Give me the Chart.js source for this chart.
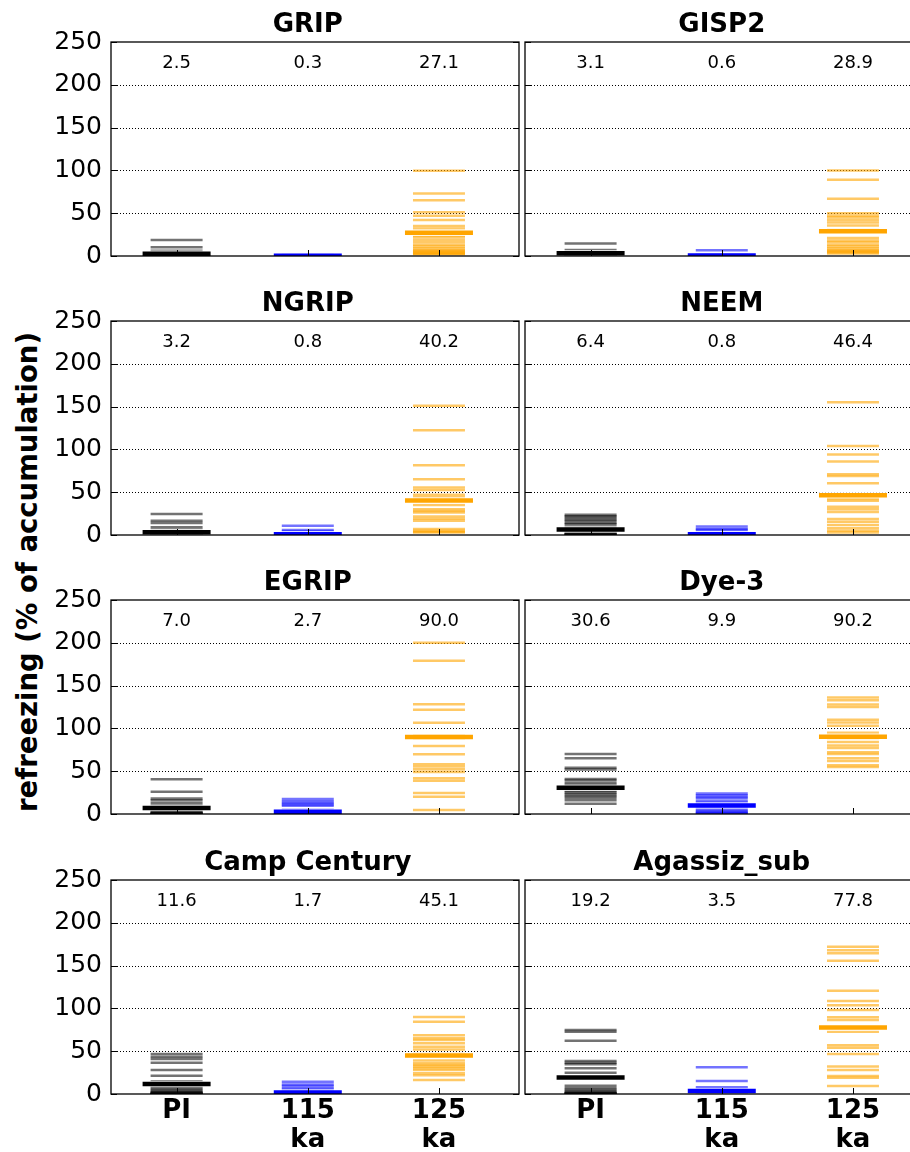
<!DOCTYPE html>
<html>
<head>
<meta charset="utf-8">
<script src="https://cdn.jsdelivr.net/npm/chart.js@4.4.1/dist/chart.umd.min.js"></script>
<style>
  html, body { margin: 0; padding: 0; background: #fff; overflow: hidden; }
  #figura { position: relative; width: 910px; height: 1152px; overflow: hidden; }
  #figura canvas { position: absolute; }
  #ylabel {
    position: absolute; left: 27px; top: 572px;
    transform: translate(-50%, -50%) rotate(-90deg);
    font: bold 27.5px "DejaVu Sans"; white-space: nowrap; color: #000;
  }
</style>
</head>
<body>
<div id="figura">
  <div id="ylabel">refreezing (% of accumulation)</div>
</div>
<script>
const periods = ["PI", "115 ka", "125 ka"];
const xTickLabels = [["PI"], ["115", "ka"], ["125", "ka"]];
const yTicks = [0, 50, 100, 150, 200, 250];
const sites = ["GRIP", "GISP2", "NGRIP", "NEEM", "EGRIP", "Dye-3", "Camp Century", "Agassiz_sub"];

// mean values printed above each group
const gripMeans = [2.5, 0.3, 27.1];
const gisp2Means = [3.1, 0.6, 28.9];
const ngripMeans = [3.2, 0.8, 40.2];
const neemMeans = [6.4, 0.8, 46.4];
const egripMeans = [7.0, 2.7, 90.0];
const dye3Means = [30.6, 9.9, 90.2];
const campMeans = [11.6, 1.7, 45.1];
const agassizMeans = [19.2, 3.5, 77.8];

// ensemble members: [PI, 115 ka, 125 ka]
const gripMembers = [
  [18.7, 10.2, 6, 3.5, 2, 1.5, 1, 0.8, 0.5, 0.4, 0.3, 0.2, 0.1, 0, 0, 0, 0, 0],
  [1.5, 1, 0.6, 0.4, 0.3, 0.2, 0.1, 0, 0, 0, 0, 0],
  [99.5, 73, 65, 51, 47, 42, 35, 32, 24, 22, 19, 16, 13, 11, 9, 7, 6, 5, 4, 3, 3, 2]
];
const gisp2Members = [
  [14.5, 7, 5, 4, 3, 2.5, 2, 1.5, 1, 0.8, 0.5, 0.3, 0.2, 0, 0, 0, 0],
  [6.6, 2, 1, 0.5, 0.3, 0.2, 0.1, 0, 0, 0],
  [100, 89, 67, 50, 47, 45, 42, 39, 35.5, 31, 21, 18, 16, 13, 11, 9, 7, 6, 5, 4, 3]
];
const ngripMembers = [
  [24.4, 16.7, 14, 9, 6.2, 4, 3, 2, 1, 1, 0.5, 0.3, 0, 0, 0, 0, 0, 0, 0, 0],
  [10.8, 5.8, 4, 2, 1, 0.5, 0.3, 0, 0, 0],
  [151, 122.5, 81.4, 65, 55.4, 52.7, 46.9, 44, 35, 30.2, 28, 26.4, 21.7, 19, 16.7, 7, 5, 3.9, 3]
];
const neemMembers = [
  [23.6, 22, 20.5, 18, 16.7, 14, 12.8, 10, 8, 6, 4, 3, 2, 1, 0.5, 0, 0, 0],
  [10, 7, 6, 3, 1.5, 1, 0.5, 0.2, 0, 0],
  [155, 104, 94, 86, 71, 69, 60.5, 44, 42, 40, 33, 30, 27, 18.6, 15.5, 11.6, 7.8, 5, 3]
];
const egripMembers = [
  [40.7, 26, 18, 16, 12.8, 10, 8, 6, 4, 3, 2, 1, 0.5, 0, 0, 0, 0, 0],
  [17.4, 15, 12.8, 11, 9.7, 5, 3, 1, 0.5, 0, 0],
  [200, 179, 128.3, 121.7, 106.6, 92, 88, 79.4, 69.8, 58, 55.4, 52.3, 49.2, 41.9, 38.8, 24.4, 20.2, 4.7]
];
const dye3Members = [
  [70, 65, 54, 52, 41, 39, 36, 34, 30, 27, 25, 23, 21, 19, 16, 12],
  [24, 22, 20, 18, 15, 13, 11, 9, 7, 5, 3, 2, 1, 0],
  [136, 133, 128, 125, 110, 107, 103, 95, 92, 88, 84, 80, 77, 72, 70, 65, 62, 57, 55]
];
const campMembers = [
  [46.7, 43.6, 40.9, 36.6, 28, 21.4, 15, 12, 10, 8, 6, 4, 3, 2, 1, 0.5, 0, 0, 0, 0, 0, 0],
  [14.4, 11, 9.3, 6.6, 5, 3, 1, 0.5, 0, 0],
  [90, 84.5, 68.6, 65, 63, 59.2, 55.3, 52, 47, 39, 36, 34, 32, 30, 28, 24.2, 22, 16.4]
];
const agassizMembers = [
  [74.8, 72.8, 62.3, 38.6, 36.5, 34.7, 30, 24.9, 9.7, 6.6, 5, 3, 2, 1, 0.5, 0, 0, 0, 0],
  [31.2, 15.2, 7.8, 6, 4, 3, 2, 1, 0.5, 0, 0],
  [172, 168, 164.4, 155.8, 120.7, 108.6, 103.6, 98, 89.6, 86.4, 72.8, 57, 54, 46.7, 32, 28, 21, 19, 9.3]
];

const allMembers = [gripMembers, gisp2Members, ngripMembers, neemMembers, egripMembers, dye3Members, campMembers, agassizMembers];
const allMeans = [gripMeans, gisp2Means, ngripMeans, neemMeans, egripMeans, dye3Means, campMeans, agassizMeans];

const memberColors = ["rgba(0,0,0,0.55)", "rgba(0,0,255,0.55)", "rgba(255,165,0,0.6)"];
const meanColors = ["#000000", "#0000ff", "#ffa500"];
const fontFamily = '"DejaVu Sans", sans-serif';
const areaTops = [42, 321, 600, 880];
const areaHeight = 214;

const panelPlugin = {
  id: "panel",
  beforeDatasetsDraw(chart) {
    const { ctx, chartArea: a, scales: { y } } = chart;
    ctx.save();
    ctx.strokeStyle = "#000";
    ctx.lineWidth = 1;
    ctx.setLineDash([1, 2]);
    yTicks.slice(1, -1).forEach((v) => {
      const py = Math.round(y.getPixelForValue(v)) + 0.5;
      ctx.beginPath();
      ctx.moveTo(a.left, py);
      ctx.lineTo(a.right, py);
      ctx.stroke();
    });
    ctx.restore();
  },
  afterDatasetsDraw(chart, args, opts) {
    const { ctx, chartArea: a, scales: { x, y } } = chart;
    ctx.save();
    // ticks pointing inward
    ctx.strokeStyle = "#000";
    ctx.lineWidth = 1;
    yTicks.forEach((v) => {
      const py = Math.round(y.getPixelForValue(v)) + 0.5;
      ctx.beginPath();
      ctx.moveTo(a.left, py);
      ctx.lineTo(a.left + 6, py);
      ctx.moveTo(a.right - 6, py);
      ctx.lineTo(a.right, py);
      ctx.stroke();
    });
    periods.forEach((p, i) => {
      const px = Math.round(x.getPixelForValue(i)) + 0.5;
      ctx.beginPath();
      ctx.moveTo(px, a.bottom);
      ctx.lineTo(px, a.bottom - 6);
      ctx.stroke();
    });
    // frame
    ctx.lineWidth = 1.3;
    ctx.strokeRect(a.left, a.top, a.right - a.left, a.bottom - a.top);

    // mean numbers
    ctx.fillStyle = "#000";
    ctx.textAlign = "center";
    ctx.textBaseline = "middle";
    ctx.font = "18px " + fontFamily;
    opts.means.forEach((m, i) => {
      ctx.fillText(m.toFixed(1), x.getPixelForValue(i), y.getPixelForValue(225));
    });

    // panel title
    ctx.textBaseline = "alphabetic";
    ctx.font = "bold 26px " + fontFamily;
    ctx.fillText(opts.title, x.getPixelForValue(1), a.top - 10);
    ctx.restore();
  }
};

function crearDatasets(members, means) {
  const datasets = [];
  members.forEach((valores, i) => {
    datasets.push({
      data: valores.map((v) => ({ x: i, y: v })),
      order: 3,
      clip: 0,
      pointStyle: "line",
      pointRadius: 26,
      pointBorderWidth: 2.5,
      pointBorderColor: memberColors[i]
    });
  });
  means.forEach((m, i) => {
    datasets.push({
      data: [{ x: i, y: m }],
      order: 2,
      clip: 0,
      pointStyle: "line",
      pointRadius: 35,
      pointBorderWidth: 6.5,
      pointBorderColor: "rgba(255,255,255,0.8)"
    });
    datasets.push({
      data: [{ x: i, y: m }],
      order: 1,
      clip: 0,
      pointStyle: "line",
      pointRadius: 34,
      pointBorderWidth: 4.5,
      pointBorderColor: meanColors[i]
    });
  });
  return datasets;
}

function crearPanel(index) {
  const row = Math.floor(index / 2);
  const col = index % 2;
  const isBottom = row === 3;
  const isLeft = col === 0;

  const canvas = document.createElement("canvas");
  const width = isLeft ? 522 : 414;
  const height = 40 + areaHeight + (isBottom ? 58 : 28);
  canvas.width = width;
  canvas.height = height;
  canvas.style.left = (isLeft ? 0 : 522) + "px";
  canvas.style.top = (areaTops[row] - 40) + "px";
  canvas.style.width = width + "px";
  canvas.style.height = height + "px";
  document.getElementById("figura").appendChild(canvas);

  const config = {
    type: "scatter",
    data: { datasets: crearDatasets(allMembers[index], allMeans[index]) },
    options: {
      responsive: false,
      animation: false,
      events: [],
      layout: {
        autoPadding: false,
        padding: { top: 40, bottom: isBottom ? 0 : 28, left: 0, right: 3 }
      },
      plugins: {
        legend: { display: false },
        tooltip: { enabled: false },
        panel: { title: sites[index], means: allMeans[index] }
      },
      scales: {
        x: {
          type: "linear",
          min: -0.5,
          max: 2.61,
          display: isBottom,
          grid: { display: false, drawTicks: false },
          border: { display: false },
          afterBuildTicks: (s) => {
            s.ticks = [0, 1, 2].map((v) => ({ value: v }));
          },
          afterFit: (s) => {
            s.height = isBottom ? 58 : 0;
          },
          ticks: {
            autoSkip: false,
            maxRotation: 0,
            padding: 3,
            color: "#000",
            font: { family: fontFamily, size: 26, weight: "bold", lineHeight: 1.1 },
            callback: (v) => xTickLabels[v]
          }
        },
        y: {
          min: 0,
          max: 250,
          grid: { display: false, drawTicks: false },
          border: { display: false },
          afterFit: (s) => {
            s.width = isLeft ? 111 : 3;
          },
          ticks: {
            display: isLeft,
            autoSkip: false,
            stepSize: 50,
            padding: 9,
            color: "#000",
            font: { family: fontFamily, size: 25 }
          }
        }
      }
    },
    plugins: [panelPlugin]
  };

  return new Chart(canvas, config);
}

sites.forEach((s, i) => crearPanel(i));
</script>
</body>
</html>
